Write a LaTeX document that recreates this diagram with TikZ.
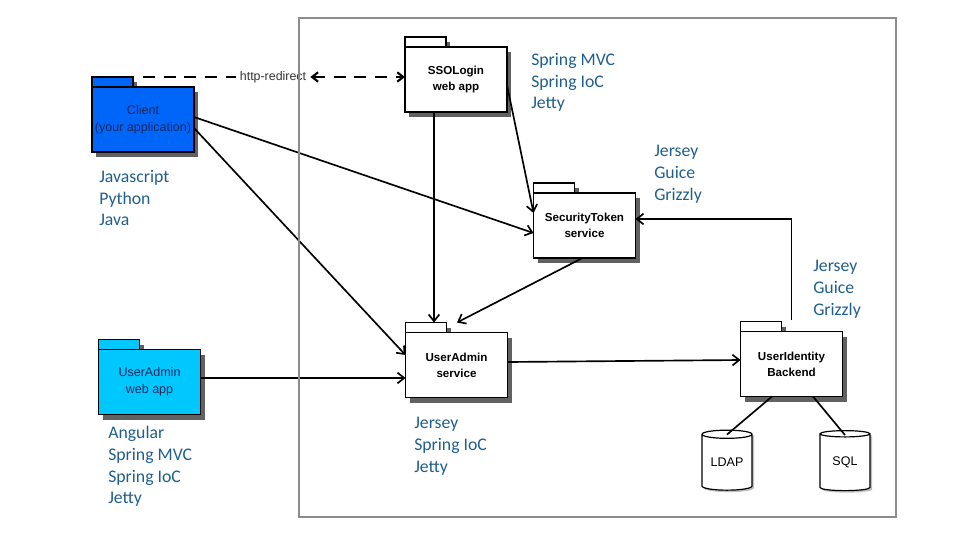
\documentclass[tikz,border=0pt]{standalone}
\usepackage{fontspec}
\setmainfont{Liberation Sans}
\newfontfamily\techfont{Carlito}
\usepackage{tikz}
\usetikzlibrary{calc,arrows.meta,shapes.geometric,shadows}
\definecolor{clientblue}{RGB}{0,102,250}
\definecolor{appcyan}{RGB}{0,200,255}
\definecolor{pkgnavy}{RGB}{25,40,95}
\definecolor{techblue}{RGB}{31,95,140}
\tikzset{
  pkg/.style={draw, line width=1.2pt, outer sep=0pt, inner sep=1pt, align=center,
    minimum width=76.5pt, minimum height=48.75pt},
  pkg tab/.style={draw, line width=1.2pt, outer sep=0pt, inner sep=0pt,
    minimum width=30.75pt, minimum height=7.5pt},
  pkg shadow/.style={fill=black!62},
  plain pkg/.style={fill=white, font=\fontsize{8.7}{11.8}\selectfont\bfseries},
  client pkg/.style={fill=clientblue, text=pkgnavy, font=\fontsize{9.4}{12.8}\selectfont},
  app pkg/.style={fill=appcyan, text=pkgnavy, font=\fontsize{9.4}{12.5}\selectfont},
  conn/.style={line width=1.25pt, -{Straight Barb[length=5pt,width=8pt]}},
  link/.style={line width=1.25pt},
  redirect line/.style={line width=1.6pt, dash pattern=on 9pt off 6.5pt,
    {Straight Barb[length=4.5pt,width=7pt]}-{Straight Barb[length=4.5pt,width=7pt]}},
  redirect lbl/.style={inner xsep=3pt, inner ysep=1pt, text=black!80, font=\fontsize{9.3}{11}\selectfont},
  tech/.style={anchor=west, inner sep=0pt, align=left, text=techblue,
    font=\techfont\fontsize{13.3}{16.3}\selectfont},
  db/.style={cylinder, shape border rotate=90, draw, fill=white, line width=0.9pt,
    minimum width=37.5pt, minimum height=45pt, aspect=0.25, inner sep=0pt,
    font=\fontsize{9.4}{11}\selectfont,
    drop shadow={shadow xshift=1.5pt, shadow yshift=-1.5pt, fill=black!25, opacity=1}},
  frame/.style={draw=black!45, line width=0.9pt},
}
% package: shadow, body, tab
\def\umlpkg(#1)[#2]#3#4{%
  \fill[pkg shadow] ($(#1)+(-47,-37.5)$) rectangle ($(#1)+(-6,-27.5)$);
  \fill[pkg shadow] ($(#1)+(-47,-27.5)$) rectangle ($(#1)+(55,37.5)$);
  \node[pkg, #2] (#3) at (#1) {#4};
  \node[pkg tab, #2, anchor=south west] (#3-tab) at (#3.north west) {};
}
\begin{document}
\begin{tikzpicture}[x=0.75pt,y=-0.75pt]
  %%%%% FRAME %%%%%
  \useasboundingbox (0,0) rectangle (960,540);

  %%%%% PACKAGES %%%%%
  \umlpkg(143,119.5)[client pkg]{client}{Client\\(your application)}
  \umlpkg(456,79.5)[plain pkg]{sso}{SSOLogin\\web app}
  \umlpkg(584.5,225.5)[plain pkg]{token}{SecurityToken\\service}
  \umlpkg(456.5,365)[plain pkg]{adminsvc}{UserAdmin\\service}
  \umlpkg(149.5,382)[app pkg]{adminapp}{UserAdmin\\web app}
  \umlpkg(791.5,364)[plain pkg]{identity}{UserIdentity\\Backend}

  %%%%% DATABASES %%%%%
  \node[db] (ldap) at (727,462.5) {LDAP};
  \node[db] (sql) at (845,462.5) {SQL};

  %%%%% CONNECTORS %%%%%
  \node[redirect lbl] (redirect) at (273,77) {http-redirect};
  \draw[redirect line] ([xshift=7.5pt]client-tab.north east) -- (redirect) -- (sso.west |- redirect);

  \draw[conn] ($(client.east)+(0,-2.5)$) -- ($(token.west)+(0,7.5)$);
  \draw[conn] ($(client.east)+(0,8.5)$) -- ($(adminsvc.west)+(0,-10)$);
  \draw[conn] ($(sso.south)+(-22,0)$) -- ($(adminsvc.north)+(-22.5,-10)$);
  \draw[conn] ($(sso.east)+(0,5.5)$) -- ($(token.west)+(0,-12.5)$);
  \draw[conn] ($(token.south)+(-2,0)$) -- ($(adminsvc.north)+(0.5,-10)$);
  \draw[conn] ($(adminapp.east)+(0,-4)$) -- ($(adminsvc.west)+(0,13)$);
  \draw[conn] ($(adminsvc.east)+(0,-3)$) -- ($(identity.west)+(0,-4)$);
  \draw[conn] ($(identity.north)+(0,-12)$) |- ($(token.east)+(0,-6.5)$);
  \draw[link] ($(identity.south)+(-19.5,0)$) -- ($(ldap.north)+(0,5)$);
  \draw[link] ($(identity.south)+(21.5,0)$) -- ($(sql.north)+(0,5)$);

  \draw[frame] (299,18) rectangle (896,517);

  %%%%% TECH LABELS %%%%%
  \node[tech] (sso-tech) at (531,82.5) {Spring MVC\\Spring IoC\\Jetty};
  \node[tech] (token-tech) at (654,174) {Jersey\\Guice\\Grizzly};
  \node[tech] (identity-tech) at (813,289) {Jersey\\Guice\\Grizzly};
  \node[tech] (client-tech) at (99,198) {Javascript\\Python\\Java};
  \node[tech] (adminapp-tech) at (108,466.5) {Angular\\Spring MVC\\Spring IoC\\Jetty};
  \node[tech] (adminsvc-tech) at (414,446) {Jersey\\Spring IoC\\Jetty};
\end{tikzpicture}
\end{document}
